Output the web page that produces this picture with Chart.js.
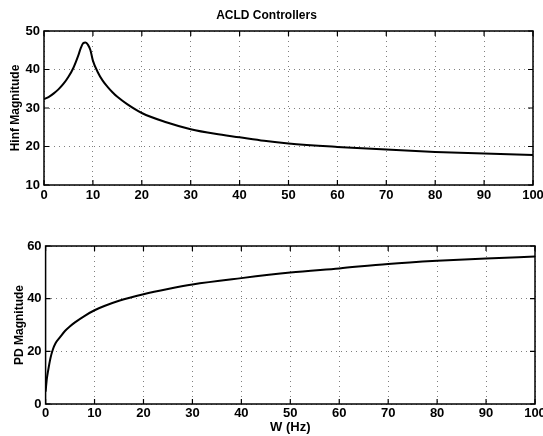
<!DOCTYPE html>
<html>
<head>
<meta charset="utf-8">
<script src="https://cdn.jsdelivr.net/npm/chart.js@4/dist/chart.umd.min.js"></script>
<style>
  html, body { margin: 0; padding: 0; background: #fff; }
  #wrap { position: relative; width: 543px; height: 436px; }
  canvas { position: absolute; left: 0; }
</style>
</head>
<body>
<div id="wrap">
  <canvas id="top" width="543" height="218" style="top:0;width:543px;height:218px"></canvas>
  <canvas id="bot" width="543" height="218" style="top:218px;width:543px;height:218px"></canvas>
</div>
<script>
// ---- Data ----
const chartTitle = "ACLD Controllers";
const xTitle = "W (Hz)";
const hinfLabel = "Hinf Magnitude";
const pdLabel = "PD Magnitude";

const hinfFreq = [0, 1, 2, 3, 4, 5, 6, 7, 7.5, 8, 8.5, 9, 9.5, 10, 11, 12, 13, 14, 15, 17, 20, 25, 30, 35, 40, 45, 50, 60, 70, 80, 90, 100];
const hinfMag  = [32.3, 32.9, 33.8, 34.9, 36.3, 38.1, 40.4, 43.6, 45.5, 46.8, 47.0, 46.4, 45.0, 42.3, 39.3, 37.1, 35.5, 34.1, 32.9, 31.0, 28.7, 26.3, 24.5, 23.3, 22.4, 21.5, 20.8, 19.9, 19.2, 18.6, 18.2, 17.8];

const pdFreq = [0, 0.25, 0.5, 1, 1.5, 2, 3, 4, 5, 6, 8, 10, 12, 15, 20, 25, 30, 40, 50, 60, 70, 80, 90, 100];
const pdMag  = [4.7, 9.5, 12.5, 17.5, 20.8, 23.0, 25.5, 27.8, 29.5, 31.0, 33.5, 35.6, 37.2, 39.2, 41.7, 43.7, 45.4, 47.8, 49.9, 51.5, 53.2, 54.4, 55.3, 56.0];

const xTicks = [0, 10, 20, 30, 40, 50, 60, 70, 80, 90, 100];
const hinfTicks = [10, 20, 30, 40, 50];
const pdTicks = [0, 20, 40, 60];

// ---- Helpers ----
const FONT = "'Liberation Sans', Arial, Helvetica, sans-serif";
Chart.defaults.font.family = FONT;
Chart.defaults.color = '#000';

const frameTicks = {
  id: 'frameTicks',
  afterDraw(chart) {
    const {ctx, chartArea: a, scales} = chart;
    ctx.save();
    ctx.strokeStyle = '#000';
    ctx.lineWidth = 1.5;
    ctx.strokeRect(a.left, a.top, a.right - a.left, a.bottom - a.top);
    ctx.lineWidth = 1.2;
    const L = 5;
    ctx.beginPath();
    scales.x.ticks.forEach(t => {
      const px = scales.x.getPixelForValue(t.value);
      ctx.moveTo(px, a.bottom); ctx.lineTo(px, a.bottom - L);
      ctx.moveTo(px, a.top); ctx.lineTo(px, a.top + L);
    });
    scales.y.ticks.forEach(t => {
      const py = scales.y.getPixelForValue(t.value);
      ctx.moveTo(a.left, py); ctx.lineTo(a.left + L, py);
      ctx.moveTo(a.right, py); ctx.lineTo(a.right - L, py);
    });
    ctx.stroke();
    ctx.restore();
  }
};

function makeChart(id, xs, ys, yTickVals, yLabel, opts) {
  const pts = xs.map((x, i) => ({x: x, y: ys[i]}));
  return new Chart(document.getElementById(id), {
    type: 'line',
    data: { datasets: [{
      data: pts,
      borderColor: '#000',
      borderWidth: 2,
      pointRadius: 0,
      fill: false,
      cubicInterpolationMode: 'monotone'
    }]},
    options: {
      responsive: false,
      animation: false,
      events: [],
      layout: { padding: { left: 0, right: opts.padRight, top: opts.padTop, bottom: 0 } },
      plugins: {
        legend: { display: false },
        tooltip: { enabled: false },
        title: opts.title ? {
          display: true, text: opts.title, color: '#000',
          font: { size: 12, weight: 'bold', family: FONT },
          padding: { top: 8, bottom: 8.6 }
        } : { display: false }
      },
      scales: {
        x: {
          type: 'linear', min: 0, max: 100,
          afterBuildTicks(s) { s.ticks = xTicks.map(v => ({value: v})); },
          afterFit(s) { s.height = opts.xHeight; s.paddingLeft = 0; s.paddingRight = 0; },
          grid: { drawTicks: false, color: 'rgba(0,0,0,0.5)', lineWidth: 1 },
          border: { display: false, dash: [1, 4] },
          ticks: { font: { size: 13, weight: 'bold', family: FONT }, color: '#000', padding: opts.xPad, maxRotation: 0 },
          title: opts.xTitle ? {
            display: true, text: opts.xTitle, color: '#000',
            font: { size: 13, weight: 'bold', family: FONT }, padding: { top: 0, bottom: 1 }
          } : { display: false }
        },
        y: {
          type: 'linear', min: yTickVals[0], max: yTickVals[yTickVals.length - 1],
          afterBuildTicks(s) { s.ticks = yTickVals.map(v => ({value: v})); },
          afterFit(s) { s.width = opts.yWidth; s.paddingTop = 0; s.paddingBottom = 0; },
          grid: { drawTicks: false, color: 'rgba(0,0,0,0.5)', lineWidth: 1 },
          border: { display: false, dash: [1, 4] },
          ticks: { font: { size: 13, weight: 'bold', family: FONT }, color: '#000', padding: 4 },
          title: {
            display: true, text: yLabel, color: '#000',
            font: { size: 12, weight: 'bold', family: FONT }, padding: { top: opts.yTitlePad, bottom: 0 }
          }
        }
      }
    },
    plugins: [frameTicks]
  });
}

makeChart('top', hinfFreq, hinfMag, hinfTicks, hinfLabel,
  { title: chartTitle, padTop: 0, padRight: 10, xHeight: 33, yWidth: 44, xPad: 3, yTitlePad: 8 });
makeChart('bot', pdFreq, pdMag, pdTicks, pdLabel,
  { title: null, xTitle: xTitle, padTop: 28, padRight: 8, xHeight: 32, yWidth: 45.6, xPad: 2, yTitlePad: 12 });
</script>
</body>
</html>
